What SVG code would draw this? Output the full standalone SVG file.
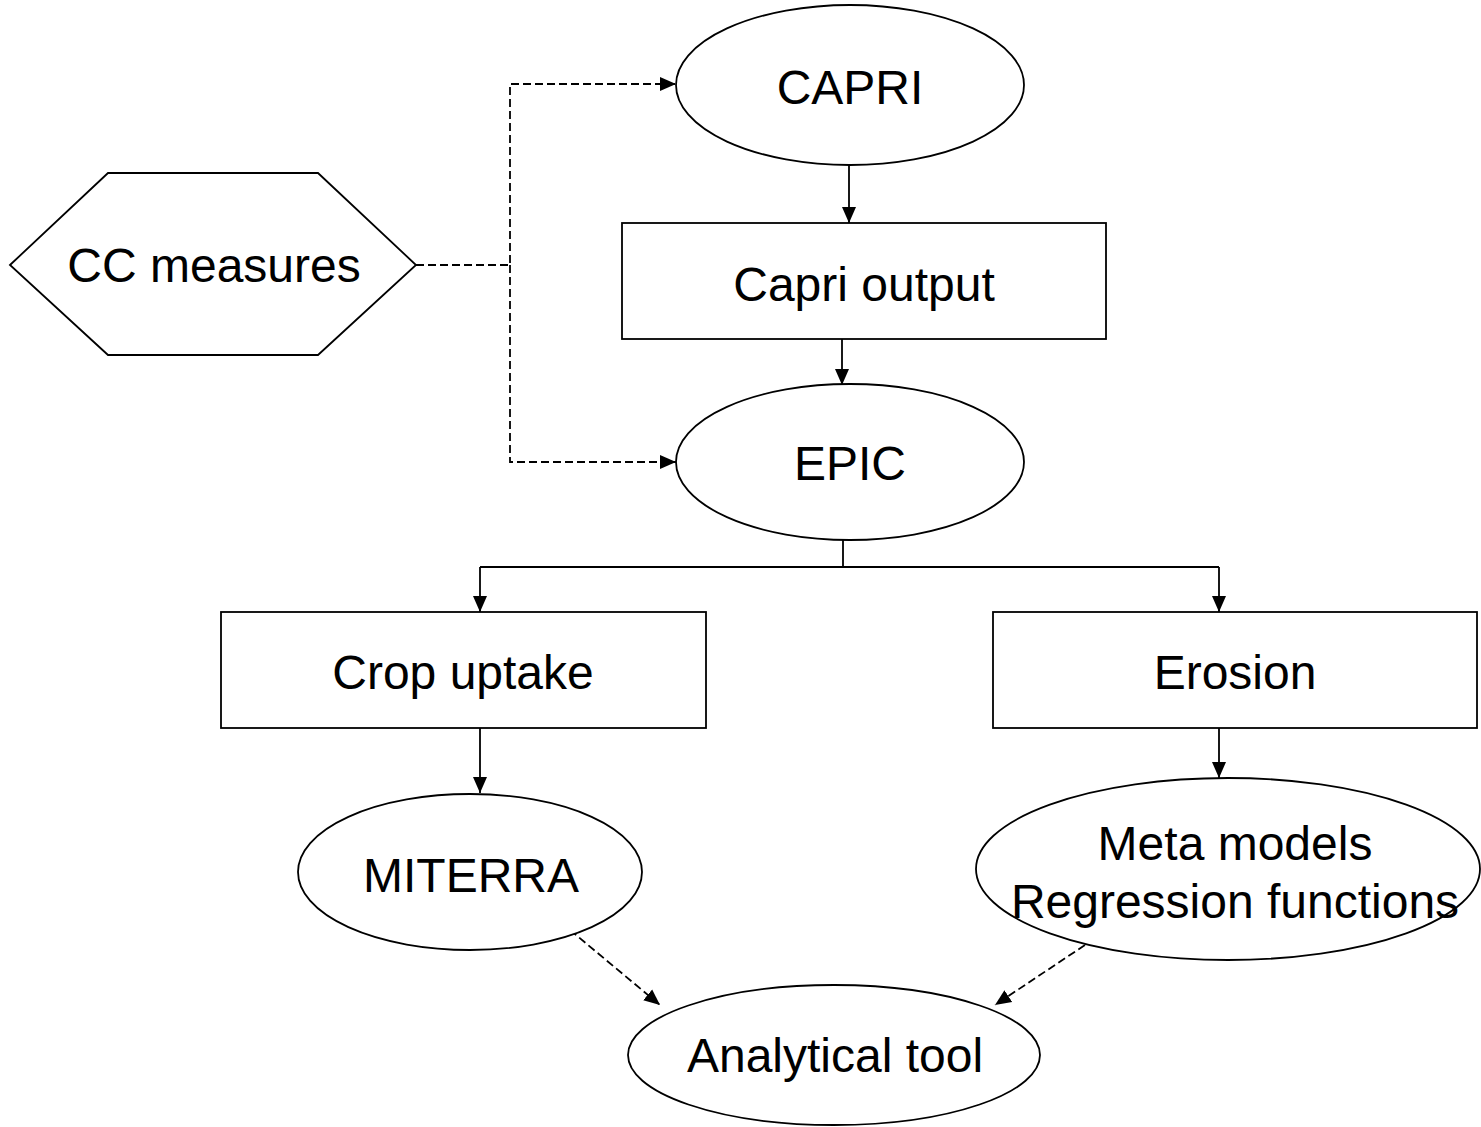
<svg xmlns="http://www.w3.org/2000/svg" width="1481" height="1127" viewBox="0 0 1481 1127">
<style>
.s{fill:#fff;stroke:#000;stroke-width:1.8}
.t{font-family:"Liberation Sans",Arial,sans-serif;font-size:48px;text-anchor:middle;dominant-baseline:central;fill:#000}
.c{fill:none;stroke:#000;stroke-width:1.8}
.d{stroke-dasharray:8,4}
</style>
<defs>
<marker id="a" markerWidth="16" markerHeight="16" refX="16" refY="8" orient="auto" markerUnits="userSpaceOnUse" viewBox="0 0 16 16">
<path d="M0,1 L16,8 L0,15 Z" fill="#000"/>
</marker>
</defs>
<g id="connectors">
<path class="c" d="M849,165 V223" marker-end="url(#a)"/>
<path class="c" d="M842,339 V385" marker-end="url(#a)"/>
<path class="c" d="M843,540 V567 M480,567 H1219"/>
<path class="c" d="M480,567 V612" marker-end="url(#a)"/>
<path class="c" d="M1219,567 V612" marker-end="url(#a)"/>
<path class="c" d="M480,728 V793" marker-end="url(#a)"/>
<path class="c" d="M1219,728 V778" marker-end="url(#a)"/>
<path class="c d" d="M416,265 H510 V84 H676" marker-end="url(#a)"/>
<path class="c d" d="M510,265 V462 H676" marker-end="url(#a)"/>
<path class="c d" d="M570,930 L660,1005" marker-end="url(#a)"/>
<path class="c d" d="M1085,945 L995,1005" marker-end="url(#a)"/>
</g>
<g id="capri"><ellipse class="s" cx="850" cy="85" rx="174" ry="80"/><text class="t" x="850" y="87">CAPRI</text></g>
<g id="capri-output"><rect class="s" x="622" y="223" width="484" height="116"/><text class="t" x="864" y="284">Capri output</text></g>
<g id="epic"><ellipse class="s" cx="850" cy="462" rx="174" ry="78"/><text class="t" x="850" y="463">EPIC</text></g>
<g id="cc-measures"><polygon class="s" points="10,265 108,173 318,173 416,265 318,355 108,355"/><text class="t" x="214" y="265">CC measures</text></g>
<g id="crop-uptake"><rect class="s" x="221" y="612" width="485" height="116"/><text class="t" x="463" y="672">Crop uptake</text></g>
<g id="erosion"><rect class="s" x="993" y="612" width="484" height="116"/><text class="t" x="1235" y="672">Erosion</text></g>
<g id="miterra"><ellipse class="s" cx="470" cy="872" rx="172" ry="78"/><text class="t" x="471" y="875">MITERRA</text></g>
<g id="meta-models"><ellipse class="s" cx="1228" cy="869" rx="252" ry="91"/><text class="t" x="1235" y="843">Meta models</text><text class="t" x="1235" y="901">Regression functions</text></g>
<g id="analytical-tool"><ellipse class="s" cx="834" cy="1055" rx="206" ry="70"/><text class="t" x="835" y="1055">Analytical tool</text></g>
</svg>
